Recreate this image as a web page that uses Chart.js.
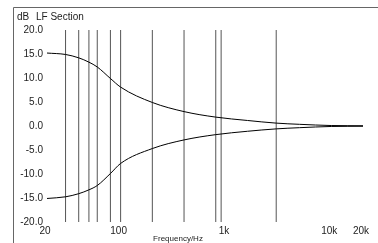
<!DOCTYPE html>
<html>
<head>
<meta charset="utf-8">
<script src="https://cdn.jsdelivr.net/npm/chart.js@4/dist/chart.umd.min.js"></script>
<style>
  html, body { margin: 0; padding: 0; background: #fff; }
  #wrap { position: relative; width: 378px; height: 243px; }
</style>
</head>
<body>
<div id="wrap"><canvas id="chart" width="378" height="243"></canvas></div>
<script>
// --- data ---
const freqs = [20, 30, 40, 50, 60, 80, 100, 200, 400, 800, 1600, 3000, 5000, 10000, 20000];
const boostDb = [15.2, 14.9, 14.2, 13.3, 12.3, 9.9, 8.1, 4.9, 3.0, 1.85, 1.15, 0.6, 0.35, 0.1, 0.05];
const cutDb = [-15.1, -14.75, -14.1, -13.3, -12.4, -9.9, -7.8, -4.7, -2.9, -1.8, -1.1, -0.6, -0.35, -0.1, -0.05];
const markerFreqs = [30, 40, 50, 60, 80, 100, 200, 400, 800, 900, 3000];
const xTicks = [20, 100, 1000, 10000, 20000];
const xTickLabels = ['20', '100', '1k', '10k', '20k'];
const yTicks = [-20, -15, -10, -5, 0, 5, 10, 15, 20];

const FONT = 'Liberation Sans, Arial, Helvetica, sans-serif';

// vertical marker lines, each one a two-point dataset
const markerSets = markerFreqs.map(f => ({
  data: [{ x: f, y: -20 }, { x: f, y: 20 }],
  borderColor: '#555',
  borderWidth: 1,
  pointRadius: 0,
  order: 2
}));

const curve = (vals) => ({
  data: freqs.map((f, i) => ({ x: f, y: vals[i] })),
  borderColor: '#000',
  borderWidth: 1,
  pointRadius: 0,
  cubicInterpolationMode: 'monotone',
  order: 0
});

// frame + corner texts
const decor = {
  id: 'decor',
  afterDraw(chart) {
    const ctx = chart.ctx;
    ctx.save();
    ctx.strokeStyle = '#666';
    ctx.lineWidth = 1;
    ctx.beginPath();
    ctx.moveTo(13.5, 243);
    ctx.lineTo(13.5, 7.5);
    ctx.lineTo(378, 7.5);
    ctx.stroke();
    ctx.fillStyle = '#222';
    ctx.font = '10px ' + FONT;
    ctx.textBaseline = 'middle';
    ctx.textAlign = 'left';
    ctx.fillText('dB', 17, 17);
    ctx.fillText('LF Section', 36, 17);
    ctx.font = '8px ' + FONT;
    ctx.textAlign = 'center';
    ctx.fillText('Frequency/Hz', 178, 239);
    ctx.restore();
  }
};

new Chart(document.getElementById('chart'), {
  type: 'line',
  data: { datasets: [curve(boostDb), curve(cutDb), ...markerSets] },
  options: {
    responsive: false,
    animation: false,
    events: [],
    layout: { padding: { left: 0, right: 15, top: 30, bottom: 0 } },
    plugins: { legend: { display: false }, tooltip: { enabled: false } },
    scales: {
      x: {
        type: 'logarithmic',
        min: 20,
        max: 20000,
        grid: { display: false, drawTicks: false },
        border: { display: false },
        afterBuildTicks: s => { s.ticks = xTicks.map(v => ({ value: v })); },
        afterFit: s => { s.height = 21; },
        ticks: {
          autoSkip: false,
          maxRotation: 0,
          padding: 3,
          labelOffset: -2,
          color: '#222',
          font: { family: FONT, size: 10 },
          callback: v => xTickLabels[xTicks.indexOf(v)]
        }
      },
      y: {
        min: -20,
        max: 20,
        grid: { display: false, drawTicks: false },
        border: { display: false },
        afterBuildTicks: s => { s.ticks = yTicks.map(v => ({ value: v })); },
        afterFit: s => { s.width = 47; },
        ticks: {
          padding: 4,
          color: '#222',
          font: { family: FONT, size: 10 },
          callback: v => v.toFixed(1)
        }
      }
    }
  },
  plugins: [decor]
});
</script>
</body>
</html>
